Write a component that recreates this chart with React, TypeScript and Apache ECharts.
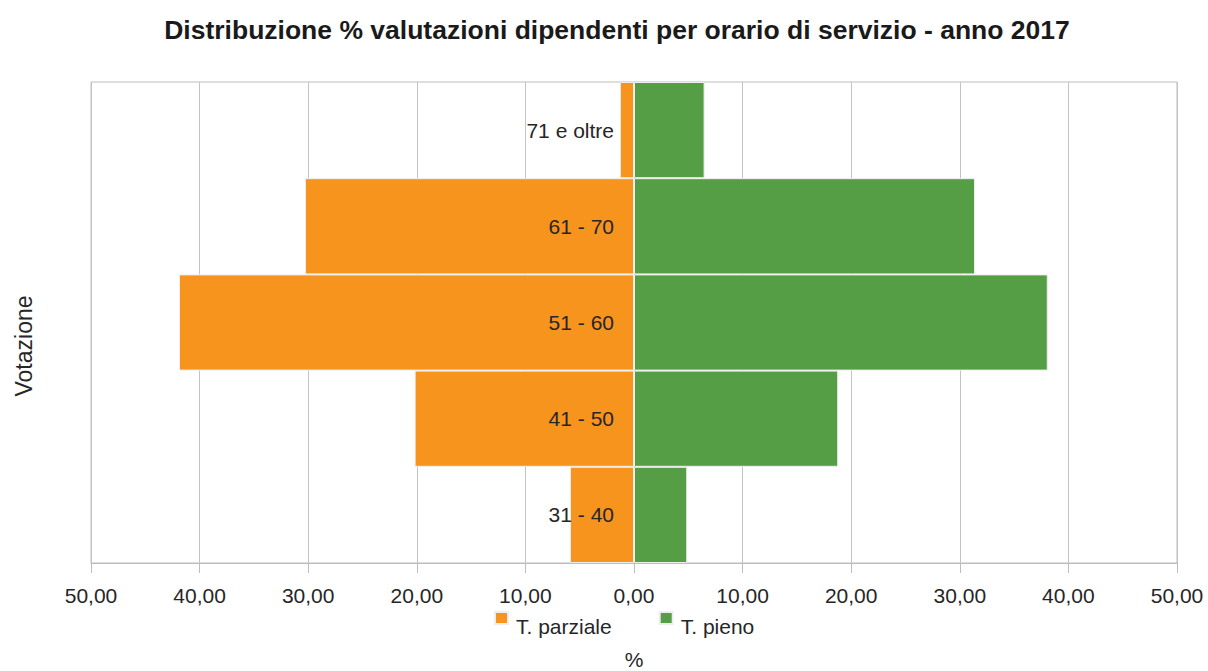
import React, { useEffect, useRef } from "react";
import * as echarts from "echarts";

const categories = ["31 - 40", "41 - 50", "51 - 60", "61 - 70", "71 e oltre"];
const parziale = [5.9, 20.2, 41.9, 30.3, 1.3];
const pieno = [4.9, 18.8, 38.1, 31.4, 6.5];
const seriesNames = ["T. parziale", "T. pieno"];
const titleText = "Distribuzione % valutazioni dipendenti per orario di servizio - anno 2017";

const FONT = "'Liberation Sans', Arial, sans-serif";

export default function App() {
  const ref = useRef<HTMLDivElement>(null);
  useEffect(() => {
    document.body.style.margin = "0";
    if (!ref.current) return;
    const chart = echarts.init(ref.current, null, { renderer: "svg" });
    const fmt = (v: number) => Math.abs(v).toFixed(2).replace(".", ",");
    chart.setOption({
      animation: false,
      backgroundColor: "#ffffff",
      textStyle: { fontFamily: FONT },
      grid: {
        left: 91,
        right: 31,
        top: 82,
        bottom: 108,
        show: true,
        borderColor: "#bdbdbd",
        borderWidth: 1,
        containLabel: false,
        outerBoundsMode: "none",
      },
      legend: {
        data: seriesNames,
        left: 494,
        top: 611,
        padding: 0,
        itemWidth: 13,
        itemHeight: 12,
        itemGap: 47,
        icon: "rect",
        formatter: (name: string) => `{t|${name}}`,
        textStyle: {
          fontSize: 21,
          color: "#262626",
          fontFamily: FONT,
          rich: {
            t: {
              fontSize: 21,
              color: "#262626",
              fontFamily: FONT,
              padding: [17, 0, 0, 3],
            },
          },
        },
      },
      graphic: [
        {
          type: "text",
          x: 617,
          y: 30,
          style: {
            text: titleText,
            fontSize: 26.5,
            fontWeight: "bold",
            fontFamily: FONT,
            fill: "#1a1a1a",
            align: "center",
            verticalAlign: "middle",
          },
        },
        {
          type: "text",
          x: 24,
          y: 346,
          rotation: Math.PI / 2,
          style: {
            text: "Votazione",
            fontSize: 23,
            fontFamily: FONT,
            fill: "#262626",
            align: "center",
            verticalAlign: "middle",
          },
        },
      ],
      xAxis: {
        type: "value",
        min: -50,
        max: 50,
        interval: 10,
        name: "%",
        nameLocation: "middle",
        nameGap: 86,
        nameTextStyle: { fontSize: 21, color: "#262626", fontFamily: FONT },
        axisLine: { show: true, lineStyle: { color: "#bdbdbd" } },
        axisTick: { show: true, length: 10, lineStyle: { color: "#bdbdbd" } },
        axisLabel: {
          formatter: fmt,
          fontSize: 21,
          color: "#262626",
          margin: 22,
          fontFamily: FONT,
        },
        splitLine: { show: true, lineStyle: { color: "#c4c4c4" } },
      },
      yAxis: {
        type: "category",
        data: categories,
        z: 10,
        position: "left",
        offset: -543,
        axisLine: { show: false, onZero: false },
        axisTick: { show: false },
        axisLabel: {
          fontSize: 21,
          color: "#262626",
          margin: 20,
          fontFamily: FONT,
        },
        splitLine: { show: false },
      },
      series: [
        {
          name: seriesNames[0],
          type: "bar",
          stack: "total",
          barCategoryGap: "0%",
          data: parziale.map((v) => -v),
          itemStyle: { color: "#F7941E", borderColor: "#eeeeee", borderWidth: 1 },
        },
        {
          name: seriesNames[1],
          type: "bar",
          stack: "total",
          barCategoryGap: "0%",
          data: pieno,
          itemStyle: { color: "#559E45", borderColor: "#eeeeee", borderWidth: 1 },
        },
      ],
    });
    return () => chart.dispose();
  }, []);
  return <div ref={ref} style={{ width: 1208, height: 671 }} />;
}
